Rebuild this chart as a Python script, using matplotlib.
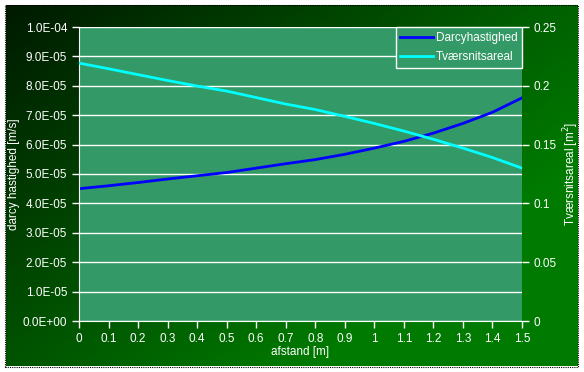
import numpy as np
import matplotlib
matplotlib.use("Agg")
import matplotlib.pyplot as plt
from matplotlib.patches import Rectangle

plt.rcParams['font.family'] = ['Liberation Sans', 'DejaVu Sans']

# afstand [m]
afstand = [0.0, 0.1, 0.2, 0.3, 0.4, 0.5, 0.6, 0.7, 0.8, 0.9, 1.0, 1.1, 1.2, 1.3, 1.4, 1.5]
# darcy hastighed [m/s]
darcy = [4.50e-5, 4.60e-5, 4.71e-5, 4.83e-5, 4.94e-5, 5.05e-5, 5.20e-5, 5.35e-5,
         5.49e-5, 5.67e-5, 5.88e-5, 6.11e-5, 6.39e-5, 6.72e-5, 7.10e-5, 7.59e-5]
# Tværsnitsareal [m2]
areal = [0.2193, 0.2145, 0.2095, 0.2045, 0.1998, 0.1955, 0.1900, 0.1845,
         0.1798, 0.1740, 0.1680, 0.1615, 0.1545, 0.1470, 0.1390, 0.1300]

W, H = 584, 372
fig = plt.figure(figsize=(W / 100, H / 100), dpi=100)
fig.patch.set_facecolor('white')

# gradient background inside dotted frame
bg = fig.add_axes([6 / W, 6 / H, 572 / W, 361 / H])
bg.set_axis_off()
gx, gy = np.meshgrid(np.linspace(0, 1, 300), np.linspace(0, 1, 200))
t = np.clip(0.75 * gx + 0.6 * gy, 0, 1)
dark = np.array([0x00, 0x1a, 0x00]) / 255
light = np.array([0x00, 0x7a, 0x00]) / 255
img = dark[None, None, :] * (1 - t[..., None]) + light[None, None, :] * t[..., None]
bg.imshow(img, aspect='auto', extent=[0, 1, 0, 1], origin='upper')
bg.set_xlim(0, 1)
bg.set_ylim(0, 1)
fig.patches.append(Rectangle((5 / W, 5 / H), 573 / W, 362 / H, transform=fig.transFigure,
                             fill=False, edgecolor='black', linestyle=(0, (1, 1)), lw=0.8))

left, right, top, bottom = 79, 522, 27, 321
ax = fig.add_axes([left / W, 1 - bottom / H, (right - left) / W, (bottom - top) / H])
ax.set_facecolor('#339966')
ax2 = ax.twinx()

l1, = ax.plot(afstand, darcy, color='#0000ff', lw=2, label='Darcyhastighed')
l2, = ax2.plot(afstand, areal, color='#00ffff', lw=2, label='Tværsnitsareal')

ax.set_xlim(0, 1.5)
ax.set_ylim(0, 1e-4)
ax2.set_ylim(0, 0.25)
ax.set_xticks(np.arange(0, 1.51, 0.1))
ax.set_xticklabels(['0', '0.1', '0.2', '0.3', '0.4', '0.5', '0.6', '0.7',
                    '0.8', '0.9', '1', '1.1', '1.2', '1.3', '1.4', '1.5'])
yt = np.arange(0, 1.01e-4, 1e-5)
ax.set_yticks(yt)
ax.set_yticklabels([f'{v:.1E}' for v in yt])
ax2.set_yticks([0, 0.05, 0.1, 0.15, 0.2, 0.25])
ax2.set_yticklabels(['0', '0.05', '0.1', '0.15', '0.2', '0.25'])
ax.yaxis.grid(True, color='white', lw=1)
ax.set_axisbelow(True)

for a in (ax, ax2):
    for s in a.spines.values():
        s.set_visible(False)
    a.tick_params(colors='white', labelsize=8.5, length=5, width=1, direction='out')
ax.spines['left'].set_visible(True)
ax.spines['left'].set_color('white')
ax.spines['bottom'].set_visible(True)
ax.spines['bottom'].set_color('white')

ax.set_xlabel('afstand [m]', color='white', fontsize=8.5, labelpad=1)
ax.set_ylabel('darcy hastighed [m/s]', color='white', fontsize=8.5)
ax.yaxis.set_label_coords(-0.133, 0.5)
ax2.set_ylabel('Tværsnitsareal [m$^2$]', color='white', fontsize=8.5)
ax2.yaxis.set_label_coords(1.088, 0.5)

leg = ax2.legend(handles=[l1, l2], loc='upper right', bbox_to_anchor=(1, 1),
                 borderaxespad=0, frameon=True, fancybox=False, fontsize=8.5,
                 handlelength=2.8, handletextpad=0.2, borderpad=0.4, labelspacing=0.6)
leg.get_frame().set_facecolor('#339966')
leg.get_frame().set_edgecolor('white')
leg.get_frame().set_linewidth(1)
leg.get_frame().set_alpha(1)
for txt in leg.get_texts():
    txt.set_color('white')

fig.savefig('out.png', dpi=100, facecolor=fig.get_facecolor())
